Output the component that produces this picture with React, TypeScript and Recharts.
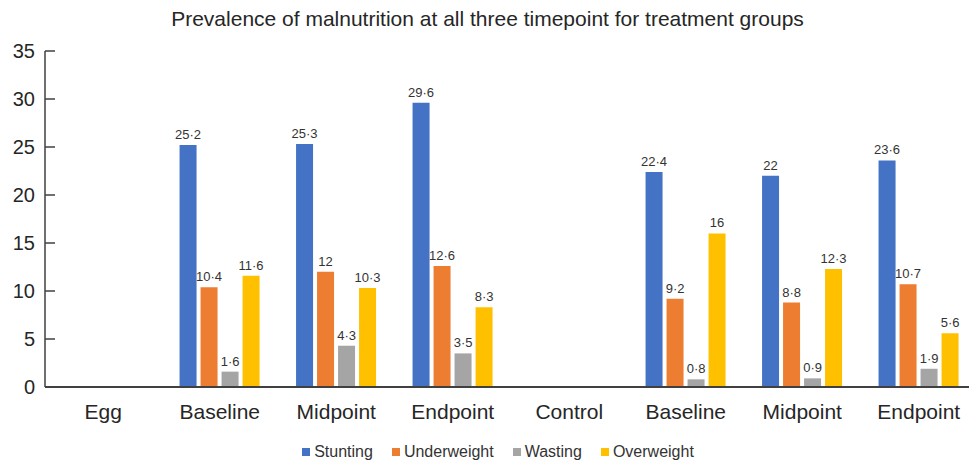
import React from 'react';
import { BarChart, Bar, XAxis, YAxis, Legend, LabelList } from 'recharts';

const categories = ['Egg', 'Baseline', 'Midpoint', 'Endpoint', 'Control', 'Baseline', 'Midpoint', 'Endpoint'];
const stunting = [null, 25.2, 25.3, 29.6, null, 22.4, 22, 23.6];
const underweight = [null, 10.4, 12, 12.6, null, 9.2, 8.8, 10.7];
const wasting = [null, 1.6, 4.3, 3.5, null, 0.8, 0.9, 1.9];
const overweight = [null, 11.6, 10.3, 8.3, null, 16, 12.3, 5.6];
const yTicks = [0, 5, 10, 15, 20, 25, 30, 35];

const series = [
  { key: 'stunting', name: 'Stunting', color: '#4472C4' },
  { key: 'underweight', name: 'Underweight', color: '#ED7D31' },
  { key: 'wasting', name: 'Wasting', color: '#A5A5A5' },
  { key: 'overweight', name: 'Overweight', color: '#FFC000' },
];

const data = categories.map((c, i) => ({
  id: i,
  name: c,
  stunting: stunting[i],
  underweight: underweight[i],
  wasting: wasting[i],
  overweight: overweight[i],
}));

const FONT = '"Liberation Sans", Arial, sans-serif';

const fmt = (v: any) => (v == null ? '' : String(v).replace('.', '·'));

function YTick({ x, y, payload }: any) {
  return (
    <g>
      <line x1={x + 10} x2={x + 20} y1={y} y2={y} stroke="#404040" strokeWidth={1.5} />
      <text x={x} y={y} dy={7} textAnchor="end" fontSize={20} fill="#262626" fontFamily={FONT}>
        {payload.value}
      </text>
    </g>
  );
}

function LegendContent() {
  return (
    <div style={{ display: 'flex', justifyContent: 'center', paddingTop: 20, paddingLeft: 38, fontFamily: FONT, fontSize: 16, color: '#333' }}>
      {series.map(s => (
        <div key={s.key} style={{ display: 'flex', alignItems: 'center', marginRight: 19 }}>
          <span style={{ width: 8, height: 8, background: s.color, display: 'inline-block', marginRight: 4 }} />
          <span>{s.name}</span>
        </div>
      ))}
    </div>
  );
}

export default function App() {
  return (
    <div style={{ position: 'absolute', top: 0, left: 0, width: 969, height: 463, overflow: 'hidden', background: '#fff' }}>
      <div style={{ position: 'absolute', top: 7, left: 3, width: 969, textAlign: 'center', fontFamily: FONT, fontSize: 21, color: '#262626' }}>
        Prevalence of malnutrition at all three timepoint for treatment groups
      </div>
      <BarChart
        width={985}
        height={463}
        data={data}
        margin={{ top: 51, right: 8, left: 0, bottom: 0 }}
        barCategoryGap="15.5%"
        barGap={4}
      >
        <XAxis
          dataKey="id"
          tickFormatter={(i: number) => categories[i]}
          axisLine={{ stroke: '#404040', strokeWidth: 2 }}
          tickLine={false}
          tickSize={0}
          tickMargin={17}
          height={36}
          interval={0}
          tick={{ fontSize: 21, fill: '#262626', fontFamily: FONT }}
        />
        <YAxis
          domain={[0, 35]}
          ticks={yTicks}
          interval={0}
          width={45}
          axisLine={{ stroke: '#404040', strokeWidth: 1.5 }}
          tickLine={false}
          tickSize={0}
          tickMargin={10}
          tick={<YTick />}
        />
        <Legend verticalAlign="bottom" height={40} content={<LegendContent />} />
        {series.map(s => (
          <Bar key={s.key} dataKey={s.key} name={s.name} fill={s.color} isAnimationActive={false}>
            <LabelList dataKey={s.key} position="top" offset={6} formatter={fmt} fontSize={13} fill="#333" fontFamily={FONT} />
          </Bar>
        ))}
      </BarChart>
    </div>
  );
}
